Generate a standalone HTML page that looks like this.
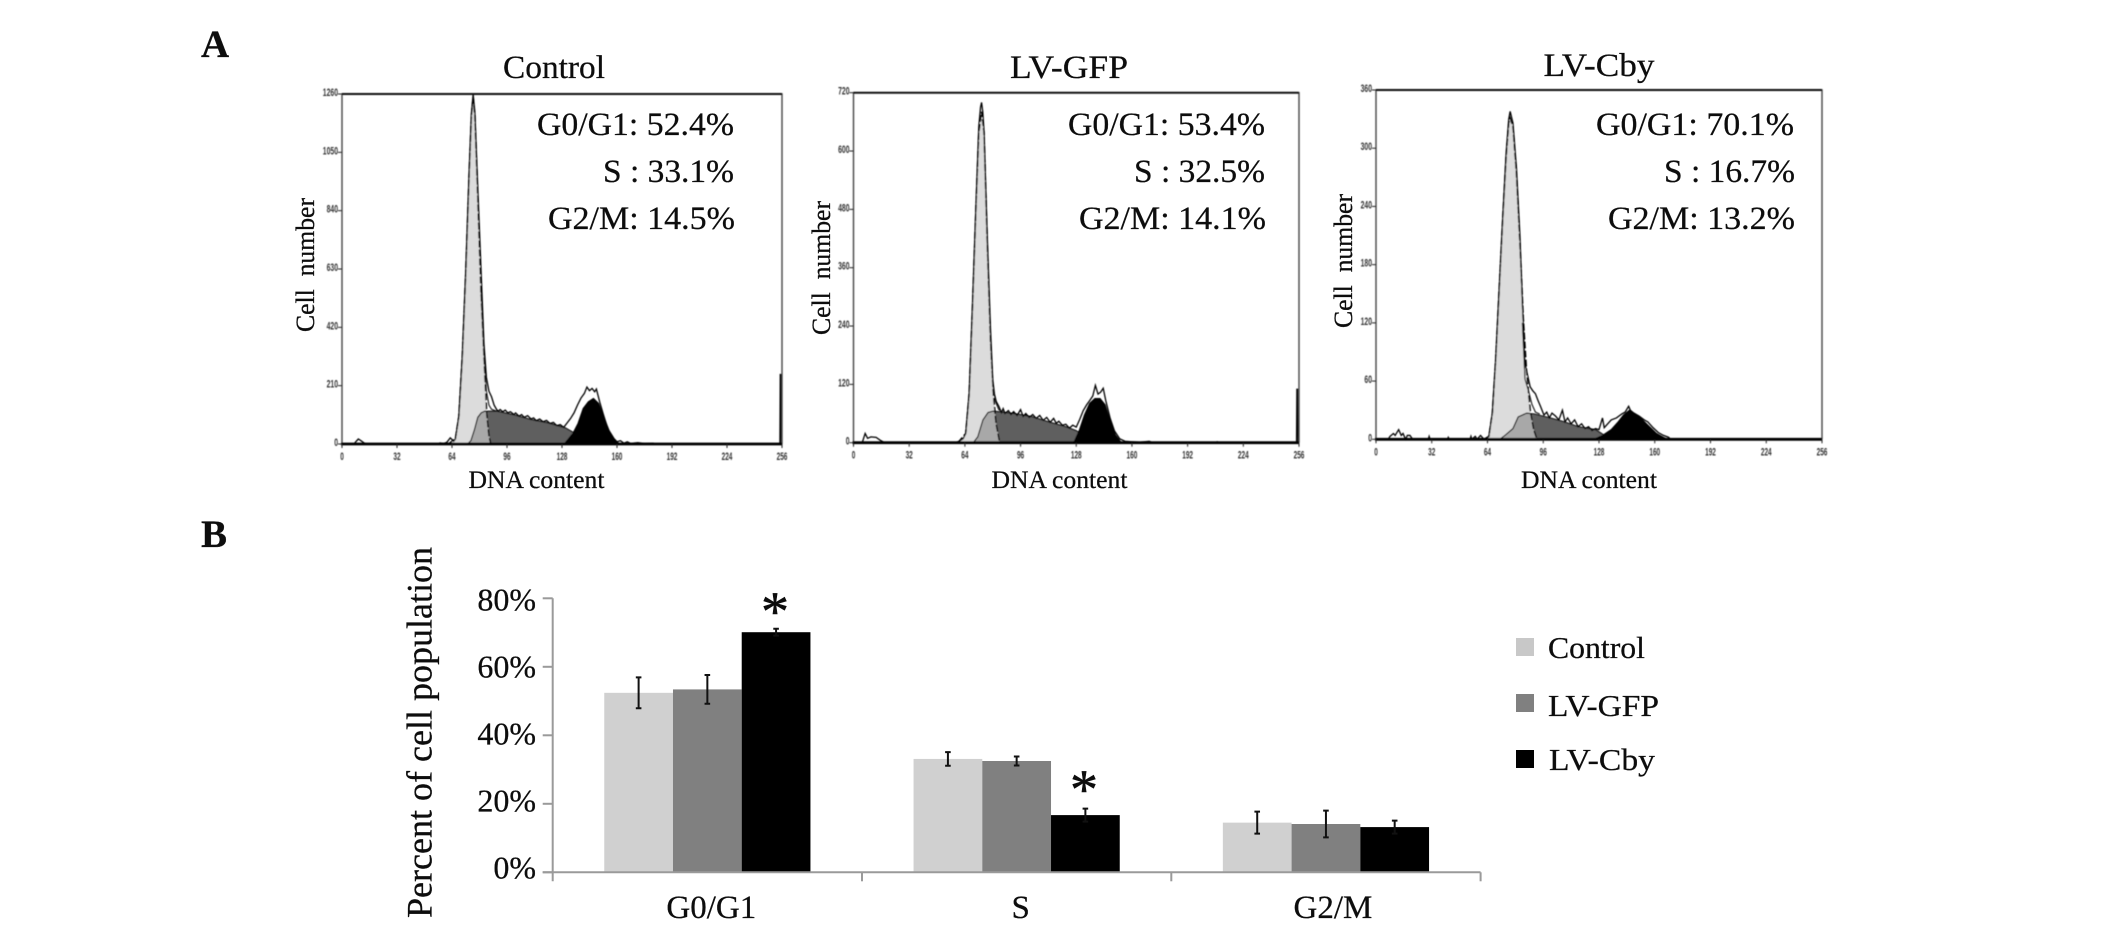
<!DOCTYPE html>
<html lang="en">
<head>
<meta charset="utf-8">
<title>Cell cycle distribution</title>
<style>
html,body{margin:0;padding:0;background:#fff;width:2126px;height:929px;overflow:hidden}
svg{display:block}
text{font-family:"Liberation Serif",serif;fill:#0d0d0d;stroke:#0d0d0d;stroke-width:.25px;white-space:pre}
.tick{font-family:"Liberation Sans",sans-serif;font-size:11px;font-weight:bold;fill:#333;stroke:none}
.ttl{font-size:33px}
.stat{font-size:33px;text-anchor:end}
.yt{font-size:26px}
.xt{font-size:25.5px}
.ast{stroke-width:.6px}
</style>
</head>
<body>
<svg id="figure" xmlns="http://www.w3.org/2000/svg" width="2126" height="929" viewBox="0 0 2126 929">
<defs><filter id="soft" x="-5%" y="-5%" width="110%" height="110%"><feGaussianBlur stdDeviation="0.4"/></filter></defs>
<rect width="2126" height="929" fill="#fff"/>

<text x="201" y="57" font-size="39" font-weight="bold">A</text>
<text x="201" y="547" font-size="39" font-weight="bold">B</text>

<g>
<text class="ttl" x="503" y="78" textLength="102" lengthAdjust="spacingAndGlyphs">Control</text>
<text class="stat" x="734" y="135" textLength="197" lengthAdjust="spacingAndGlyphs">G0/G1: 52.4%</text>
<text class="stat" x="734" y="182" textLength="131" lengthAdjust="spacingAndGlyphs">S : 33.1%</text>
<text class="stat" x="735" y="229" textLength="187" lengthAdjust="spacingAndGlyphs">G2/M: 14.5%</text>
<text class="yt" transform="translate(314,332) rotate(-90)" textLength="134" lengthAdjust="spacingAndGlyphs">Cell  number</text>
<text class="xt" x="468.5" y="488" textLength="136" lengthAdjust="spacingAndGlyphs">DNA content</text>
</g>
<g>
<text class="ttl" x="1010" y="78" textLength="118" lengthAdjust="spacingAndGlyphs">LV-GFP</text>
<text class="stat" x="1265" y="135" textLength="197" lengthAdjust="spacingAndGlyphs">G0/G1: 53.4%</text>
<text class="stat" x="1265" y="182" textLength="131" lengthAdjust="spacingAndGlyphs">S : 32.5%</text>
<text class="stat" x="1266" y="229" textLength="187" lengthAdjust="spacingAndGlyphs">G2/M: 14.1%</text>
<text class="yt" transform="translate(830,335) rotate(-90)" textLength="134" lengthAdjust="spacingAndGlyphs">Cell  number</text>
<text class="xt" x="991.5" y="488" textLength="136" lengthAdjust="spacingAndGlyphs">DNA content</text>
</g>
<g>
<text class="ttl" x="1543.5" y="76" textLength="111" lengthAdjust="spacingAndGlyphs">LV-Cby</text>
<text class="stat" x="1794" y="135" textLength="198" lengthAdjust="spacingAndGlyphs">G0/G1: 70.1%</text>
<text class="stat" x="1795" y="182" textLength="131" lengthAdjust="spacingAndGlyphs">S : 16.7%</text>
<text class="stat" x="1795" y="229" textLength="187" lengthAdjust="spacingAndGlyphs">G2/M: 13.2%</text>
<text class="yt" transform="translate(1352,328) rotate(-90)" textLength="134" lengthAdjust="spacingAndGlyphs">Cell  number</text>
<text class="xt" x="1521" y="488" textLength="136" lengthAdjust="spacingAndGlyphs">DNA content</text>
</g>

<g id="hist-layer"></g>

<text transform="translate(431.5,918) rotate(-90)" font-size="36" textLength="371" lengthAdjust="spacingAndGlyphs">Percent of cell population</text>
<g id="bar-layer"></g>
<text class="ast" x="761" y="630" font-size="56">*</text>
<text class="ast" x="1070" y="808" font-size="56">*</text>

<g>
<rect x="1516" y="638" width="18" height="18" fill="#c8c8c8"/>
<text x="1548" y="658" font-size="31" textLength="97" lengthAdjust="spacingAndGlyphs">Control</text>
<rect x="1516" y="694" width="18" height="18" fill="#808080"/>
<text x="1548" y="716" font-size="31" textLength="111" lengthAdjust="spacingAndGlyphs">LV-GFP</text>
<rect x="1516" y="750" width="18" height="18" fill="#000"/>
<text x="1549" y="770" font-size="31" textLength="106" lengthAdjust="spacingAndGlyphs">LV-Cby</text>
</g>
</svg>

<script>
// ---------- Histogram data: [DNA channel, cell count] ----------
const channelTicks = [0,32,64,96,128,160,192,224,256];
const controlCountTicks = [0,210,420,630,840,1050,1260];
const gfpCountTicks = [0,120,240,360,480,600,720];
const cbyCountTicks = [0,60,120,180,240,300,360];

const controlG1 = [[62,0],[66,20],[68,100],[70,315],[72,615],[74,975],[75.3,1180],[76.3,1250],[77.3,1180],[78.5,975],[80.8,555],[82.6,315],[84.2,110],[85.5,30],[86.6,0]];
const controlS = [[73,0],[75,12],[77,50],[79,96],[81,112],[83,118],[90,118],[100,105],[110,88],[120,76],[130,58],[135,40],[140,20],[145,0]];
const controlG2 = [[129.3,0],[134.3,38],[137.3,74],[140.3,128],[143.3,152],[146.3,164],[149.3,146],[152.3,98],[155.3,50],[158.3,20],[161.3,0]];
const controlTotal = [[0,0],[7,0],[8,8],[9.5,18],[11,12],[13,3],[15,0],[56,0],[57,4],[59,2],[61,6],[63,22],[65,10],[66,18],[68,100],[70,315],[72,620],[74,985],[75.3,1190],[76.3,1258],[77.3,1195],[78.5,1000],[80.8,640],[82.6,360],[84,240],[85.5,190],[87,170],[88.5,140],[90,124],[91,118],[92,124],[93.5,116],[95,122],[96.5,112],[98,116],[100,106],[101,112],[103,100],[104.5,106],[106,96],[108,102],[110,90],[111.5,94],[113,84],[115,90],[117,80],[119,85],[121,74],[123,78],[125,66],[127,70],[129,60],[131,76],[133,92],[135,112],[137,140],[139,165],[141,182],[142.5,205],[144,192],[145.5,200],[147,188],[148,198],[150,150],[152,108],[154,68],[156,38],[158,20],[160,8],[162,12],[164,3],[166,8],[168,2],[172,5],[176,2],[181,3],[182,0],[254.8,0],[255,250],[255.4,250],[255.6,0]];
const controlFit = [[80.8,560],[82.6,330],[84,190],[85.5,140],[87,125],[90,118]];

const gfpG1 = [[60,0],[64.5,19],[66.5,102],[68.4,280],[70.4,486],[72,637],[73.6,681],[75,637],[76.8,417],[78.7,211],[80.3,102],[81.9,40],[83.9,2]];
const gfpS = [[68.8,0],[71.4,12],[74.4,47],[77.3,62],[80.3,65],[92.2,60],[102,54],[112,43],[121.9,33],[127.8,25],[133.7,12],[139.7,0]];
const gfpG2 = [[126.8,2],[129.8,26],[132.7,57],[135.7,81],[138.7,91],[141.7,91],[144.6,78],[147.6,43],[150.5,16],[153.5,2]];
const gfpTotal = [[0,0],[5,0],[6.7,19],[8.1,9],[10,12],[13,11],[15.4,5],[18,0],[58,0],[60,2],[61,4],[63,8],[64.5,19],[66.5,102],[68.4,285],[70.4,490],[72,650],[73,690],[73.6,700],[74.3,680],[75,640],[76.8,430],[78.7,235],[80,130],[81,100],[82,85],[83.5,75],[85,62],[86,70],[87,60],[89,66],[90.5,58],[92,64],[94,56],[96,68],[97.5,54],[99,60],[101,52],[103,58],[105,50],[107,56],[109,46],[111,52],[113,42],[115,50],[116.5,40],[118,44],[120,36],[122,38],[124,30],[126,36],[128,32],[130,48],[132,66],[134,78],[136,88],[137.5,96],[139,118],[140.5,100],[142,104],[143.5,112],[145,86],[147.5,50],[150,24],[153,8],[156,3],[160,2],[164,1],[170,3],[172,0],[208,0],[209,2],[210,0],[254.6,0],[254.8,110],[255.2,110],[255.4,0]];
const gfpFit = [[76.8,420],[78.7,220],[80,120],[81.5,85],[83.5,68],[86,62]];

const cbyG1 = [[62,0],[64.8,3],[66.8,27],[68.7,82],[70.7,154],[72.7,226],[74.7,291],[76.2,326],[77,331],[78.6,322],[80.6,274],[82.6,202],[84.5,126],[86.5,68],[88.5,30],[90.5,10],[92.4,0]];
const cbyS = [[71,0],[74,4],[78.6,11],[81.6,23],[86.5,27],[91,26],[100,22],[108,18],[116,13],[126,10],[132,3],[136,0]];
const cbyG2 = [[125,0],[130,4],[135,10],[139,18],[142,25],[145.4,30],[149,26],[153,20],[157,13],[161,6],[165,2],[167.5,0]];
const cbyTotal = [[0,0],[7,0],[8,3],[10,6],[11,4],[13,10],[14.5,4],[15.5,6],[17,0],[18,4],[19.5,4],[21,0],[30,0],[30.5,3],[31,0],[41,0],[41.5,2],[42,0],[54,0],[54.5,3],[55,0],[57,3],[58,0],[60,4],[62,0],[64.8,3],[66.8,27],[68.7,82],[70.7,154],[72.7,226],[74.7,295],[76.2,330],[77,338],[78.6,326],[80.6,280],[82.6,210],[84,140],[85.5,78],[87,66],[88.5,54],[90,50],[91.5,47],[93,40],[94.4,34],[96.4,25],[98,28],[99.5,22],[101,27],[103,24],[105,20],[107,30],[108.5,18],[110,22],[112,16],[114,20],[116,13],[118,16],[120,11],[122,13],[124,9],[126,11],[128,10],[130,22],[131,12],[133,16],[135,20],[138,22],[141,26],[143,28],[145,34],[146,30],[148,27],[151,24],[154,20],[156,18],[159,12],[162,7],[165,4],[168,2],[169,0],[256,0]];
const cbyFit = [[84,120],[85.5,62],[87.5,50],[89.5,36],[91.5,28],[94,26]];

// ---------- Bar chart data ----------
const phaseCategories = ['G0/G1','S','G2/M'];
const barPercentTicks = [0,20,40,60,80];
const barControl = [52.4,33.1,14.5];
const barGfp = [53.4,32.5,14.1];
const barCby = [70.1,16.7,13.2];
const errControl = [4.5,2.0,3.2];
const errGfp = [4.2,1.3,3.9];
const errCby = [1.0,1.9,1.9];

// ---------- Drawing ----------
const NS = 'http://www.w3.org/2000/svg';
function mk(tag, parent, attrs) {
  const el = document.createElementNS(NS, tag);
  for (const k in attrs) el.setAttribute(k, attrs[k]);
  parent.appendChild(el);
  return el;
}
function pathOf(points, sx, sy, closed) {
  let d = points.map((p, i) => (i ? 'L' : 'M') + sx(p[0]).toFixed(2) + ' ' + sy(p[1]).toFixed(2)).join('');
  return closed ? d + 'Z' : d;
}
function valueAt(points, c) {
  if (c <= points[0][0] || c >= points[points.length - 1][0]) return 0;
  for (let i = 1; i < points.length; i++) {
    if (c <= points[i][0]) {
      const a = points[i - 1], b = points[i];
      return a[1] + (b[1] - a[1]) * (c - a[0]) / (b[0] - a[0]);
    }
  }
  return 0;
}
// Region shared by the G0/G1 and S peaks: the lower of the two curves at each channel.
function overlapOf(g1, s) {
  const start = Math.max(g1[0][0], s[0][0]);
  const end = Math.min(g1[g1.length - 1][0], s[s.length - 1][0]);
  const pts = [];
  for (let c = start; c <= end; c += 0.25) {
    pts.push([c, Math.min(valueAt(g1, c), valueAt(s, c))]);
  }
  pts.push([end, 0]);
  return pts;
}

function drawHistogram(name, box, maxCount, countTicks, g1, s, g2, total, fit) {
  const layer = document.getElementById('hist-layer');
  const sx = c => box.left + (c / 256) * (box.right - box.left);
  const sy = v => box.bottom - (v / maxCount) * (box.bottom - box.top);

  const group = mk('g', layer, {filter: 'url(#soft)'});
  
  

  const sFill = mk('path', group, {d: pathOf(s, sx, sy, true), fill: '#5e5e5e'});
  
  

  const g1Fill = mk('path', group, {d: pathOf(g1, sx, sy, true), fill: '#dcdcdc'});
  
  

  const overlap = mk('path', group, {d: pathOf(overlapOf(g1, s), sx, sy, true), fill: '#a8a8a8'});
  
  

  const sEdge = mk('path', group, {d: pathOf(s, sx, sy, false), fill: 'none', stroke: '#111', 'stroke-width': 1.2});
  
  

  const g1Edge = mk('path', group, {d: pathOf(g1, sx, sy, false), fill: 'none', stroke: '#000', 'stroke-width': 1.5, 'stroke-dasharray': '7 2'});
  
  

  const g2Fill = mk('path', group, {d: pathOf(g2, sx, sy, true), fill: '#000', stroke: '#000', 'stroke-width': 1});
  
  

  const outline = mk('path', group, {d: pathOf(total, sx, sy, false), fill: 'none', stroke: '#000', 'stroke-width': 1.3});
  
  

  const fitLine = mk('path', group, {d: pathOf(fit, sx, sy, false), fill: 'none', stroke: '#111', 'stroke-width': 1.1});
  
  

  const frame = mk('path', group, {d: 'M' + box.left + ' ' + box.bottom + 'V' + box.top + 'H' + box.right + 'V' + box.bottom, fill: 'none', stroke: '#444', 'stroke-width': 1.4});
  
  

  const top = mk('line', group, {x1: box.left, x2: box.right, y1: box.top, y2: box.top, stroke: '#111', 'stroke-width': 2});
  
  

  const base = mk('line', group, {x1: box.left - 1, x2: box.right, y1: box.bottom, y2: box.bottom, stroke: '#000', 'stroke-width': 2.8});
  
  

  channelTicks.forEach(c => {
    const t = mk('line', group, {x1: sx(c), x2: sx(c), y1: box.bottom, y2: box.bottom + 4, stroke: '#222', 'stroke-width': 1});
    
    
    const label = String(c);
    const l = mk('text', group, {x: sx(c), y: box.bottom + 16, 'text-anchor': 'middle', class: 'tick', textLength: label.length * 3.6, lengthAdjust: 'spacingAndGlyphs'});
    l.textContent = label;
    
    
  });
  countTicks.forEach(v => {
    const t = mk('line', group, {x1: box.left - 4, x2: box.left, y1: sy(v), y2: sy(v), stroke: '#222', 'stroke-width': 1});
    
    
    const label = String(v);
    const l = mk('text', group, {x: box.left - 4, y: sy(v) + 2, 'text-anchor': 'end', class: 'tick', textLength: label.length * 3.8, lengthAdjust: 'spacingAndGlyphs'});
    l.textContent = label;
    
    
  });
}

drawHistogram('control', {left: 342, right: 782, top: 94, bottom: 444}, 1260, controlCountTicks, controlG1, controlS, controlG2, controlTotal, controlFit);
drawHistogram('lv-gfp', {left: 853.5, right: 1299, top: 92.7, bottom: 442.7}, 720, gfpCountTicks, gfpG1, gfpS, gfpG2, gfpTotal, gfpFit);
drawHistogram('lv-cby', {left: 1376, right: 1822, top: 90, bottom: 439.3}, 360, cbyCountTicks, cbyG1, cbyS, cbyG2, cbyTotal, cbyFit);

function drawBars() {
  const layer = document.getElementById('bar-layer');
  const x0 = 552.7, bandW = 309.3, barW = bandW / 4.5;
  const yPct = v => 872.3 - v * 3.425;
  const series = [
    {name: 'control', vals: barControl, errs: errControl, fill: '#d0d0d0'},
    {name: 'lv-gfp', vals: barGfp, errs: errGfp, fill: '#808080'},
    {name: 'lv-cby', vals: barCby, errs: errCby, fill: '#000'}
  ];
  const labelShift = [4, 4, 7];

  series.forEach((s, si) => {
    phaseCategories.forEach((cat, ci) => {
      const x = x0 + ci * bandW + 0.75 * barW + si * barW;
      const bar = mk('rect', layer, {x: x, y: yPct(s.vals[ci]), width: barW, height: yPct(0) - yPct(s.vals[ci]), fill: s.fill});
      
      
    });
  });
  series.forEach((s, si) => {
    phaseCategories.forEach((cat, ci) => {
      const cx = x0 + ci * bandW + 0.75 * barW + (si + 0.5) * barW;
      const hi = yPct(s.vals[ci] + s.errs[ci]), lo = yPct(s.vals[ci] - s.errs[ci]);
      const err = mk('path', layer, {d: 'M' + (cx - 2.8) + ' ' + hi + 'h5.6M' + cx + ' ' + hi + 'V' + lo + 'M' + (cx - 2.8) + ' ' + lo + 'h5.6', stroke: '#111', 'stroke-width': 2, fill: 'none'});
      
      
    });
  });

  const axisY = mk('line', layer, {x1: x0, x2: x0, y1: yPct(80), y2: yPct(0) + 9, stroke: '#9a9a9a', 'stroke-width': 2});
  
  
  const axisX = mk('line', layer, {x1: x0 - 10, x2: x0 + bandW * phaseCategories.length, y1: yPct(0), y2: yPct(0), stroke: '#9a9a9a', 'stroke-width': 2});
  
  

  barPercentTicks.forEach(v => {
    const t = mk('line', layer, {x1: x0 - 10, x2: x0, y1: yPct(v), y2: yPct(v), stroke: '#9a9a9a', 'stroke-width': 2});
    
    
    const l = mk('text', layer, {x: 536, y: yPct(v) + 6 + v * 0.075, 'text-anchor': 'end', 'font-size': 32});
    l.textContent = v + '%';
    
    
  });
  phaseCategories.forEach((cat, ci) => {
    const t = mk('line', layer, {x1: x0 + (ci + 1) * bandW, x2: x0 + (ci + 1) * bandW, y1: yPct(0), y2: yPct(0) + 9, stroke: '#9a9a9a', 'stroke-width': 2});
    
    
    const l = mk('text', layer, {x: x0 + (ci + 0.5) * bandW + labelShift[ci], y: 918, 'text-anchor': 'middle', 'font-size': 33});
    l.textContent = cat;
    
    
  });
}
drawBars();
</script>
</body>
</html>
